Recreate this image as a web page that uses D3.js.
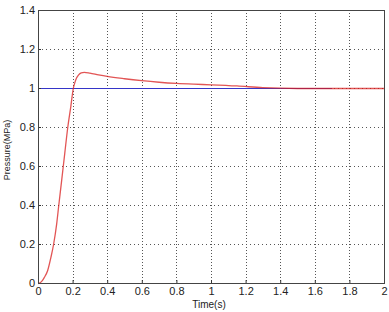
<!DOCTYPE html>
<html>
<head>
<meta charset="utf-8">
<script src="https://cdn.jsdelivr.net/npm/d3@7"></script>
<style>
  body { margin: 0; background: #fff; }
  svg text { font-family: "Liberation Sans", Arial, sans-serif; fill: #222; }
</style>
</head>
<body>
<div id="chart"></div>
<script>
// pressure response
const time = [0, 0.012, 0.025, 0.036, 0.056, 0.075, 0.09, 0.108, 0.12, 0.137, 0.155, 0.172, 0.19, 0.204, 0.213, 0.222, 0.235, 0.25, 0.268, 0.3, 0.35, 0.4, 0.5, 0.6, 0.7, 0.8, 0.9, 1.0, 1.15, 1.3, 1.5, 1.7, 2.0];
const pressure = [0, 0.004, 0.015, 0.03, 0.067, 0.135, 0.2, 0.306, 0.4, 0.53, 0.67, 0.8, 0.91, 1.0, 1.03, 1.052, 1.07, 1.08, 1.083, 1.079, 1.07, 1.062, 1.05, 1.04, 1.032, 1.026, 1.022, 1.019, 1.013, 1.004, 1.0, 1.0, 1.0];
const refTime = [0, 1.7];
const refPressure = [1, 1];
const xTicks = [0, 0.2, 0.4, 0.6, 0.8, 1, 1.2, 1.4, 1.6, 1.8, 2];
const yTicks = [0, 0.2, 0.4, 0.6, 0.8, 1, 1.2, 1.4];

const width = 389, height = 312;
const plotLeft = 38, plotRight = 384, plotTop = 10, plotBottom = 283;

const svg = d3.select("#chart").append("svg")
    .attr("width", width)
    .attr("height", height);

const x = d3.scaleLinear().domain([0, 2]).range([plotLeft, plotRight]);
const y = d3.scaleLinear().domain([0, 1.4]).range([plotBottom, plotTop]);

// grid
svg.append("g").selectAll("line")
    .data(xTicks.slice(1, -1))
    .enter().append("line")
    .attr("x1", d => Math.round(x(d)) + 0.5).attr("x2", d => Math.round(x(d)) + 0.5)
    .attr("y1", plotTop).attr("y2", plotBottom)
    .attr("stroke", "#555").attr("stroke-width", 1)
    .attr("stroke-dasharray", "1,2");

svg.append("g").selectAll("line")
    .data(yTicks.slice(1, -1))
    .enter().append("line")
    .attr("x1", plotLeft).attr("x2", plotRight)
    .attr("y1", d => Math.round(y(d)) + 0.5).attr("y2", d => Math.round(y(d)) + 0.5)
    .attr("stroke", "#555").attr("stroke-width", 1)
    .attr("stroke-dasharray", "1,3");

// reference level, then the response on top of it
svg.append("path")
    .datum(d3.zip(refTime, refPressure))
    .attr("fill", "none")
    .attr("stroke", "#3535c8")
    .attr("stroke-width", 1.2)
    .attr("d", d3.line().x(d => x(d[0])).y(d => y(d[1]) + 0.5));

const line = d3.line()
    .x(d => x(d[0]))
    .y(d => y(d[1]) + 0.5)
    .curve(d3.curveMonotoneX);

svg.append("path")
    .datum(d3.zip(time, pressure))
    .attr("fill", "none")
    .attr("stroke", "#d81c1c")
    .attr("stroke-opacity", 0.75)
    .attr("stroke-width", 1.3)
    .attr("d", line);

// axes
const xAxis = svg.append("g")
    .attr("transform", `translate(0,${plotBottom})`)
    .call(d3.axisBottom(x).tickValues(xTicks).tickFormat(d3.format("~g")).tickSizeInner(-3).tickSizeOuter(0).tickPadding(4));
const yAxis = svg.append("g")
    .attr("transform", `translate(${plotLeft},0)`)
    .call(d3.axisLeft(y).tickValues(yTicks).tickFormat(d3.format("~g")).tickSizeInner(-3).tickSizeOuter(0).tickPadding(3));

[xAxis, yAxis].forEach(g => {
    g.select(".domain").remove();
    g.selectAll("line").attr("stroke", "#333");
    g.selectAll("text").attr("font-size", 11).attr("fill", "#222");
});

// box
svg.append("rect")
    .attr("x", plotLeft + 0.5).attr("y", plotTop + 0.5)
    .attr("width", plotRight - plotLeft).attr("height", plotBottom - plotTop)
    .attr("fill", "none")
    .attr("stroke", "#444");

svg.append("text")
    .attr("x", 209)
    .attr("y", 308)
    .attr("text-anchor", "middle")
    .attr("font-size", 10)
    .text("Time(s)");

svg.append("text")
    .attr("transform", `translate(10,150) rotate(-90)`)
    .attr("text-anchor", "middle")
    .attr("font-size", 9)
    .text("Pressure(MPa)");
</script>
</body>
</html>
